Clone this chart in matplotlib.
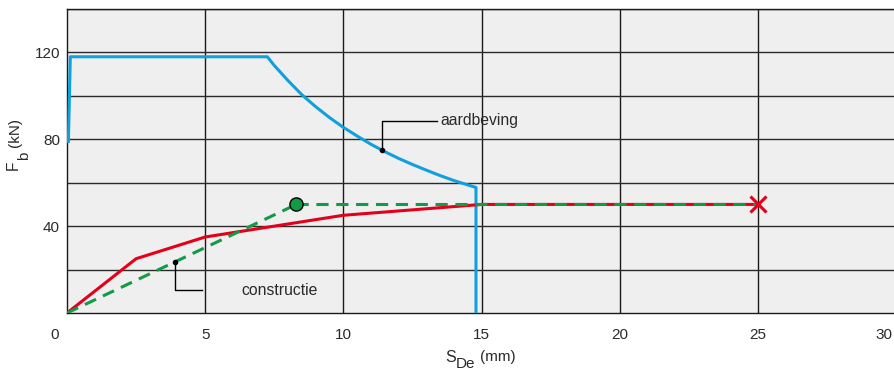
import matplotlib
matplotlib.use("Agg")
import matplotlib.pyplot as plt
from matplotlib.transforms import ScaledTranslation

plt.rcParams['font.family'] = ['Liberation Sans', 'DejaVu Sans']

# Data
eq_x = [0.05, 0.12, 7.25, 7.5, 8.0, 8.5, 9.0, 9.5, 10.0, 10.5, 11.0, 11.5, 12.0,
        12.5, 13.0, 13.5, 14.0, 14.5, 14.8, 14.8]
eq_y = [79, 118, 118, 114, 107, 100.5, 95, 90, 85.5, 81.5, 77.7, 74.3, 71.2,
        68.4, 65.8, 63.3, 61, 59, 57.8, 0]
con_x = [0, 2.5, 5, 10, 15, 25]
con_y = [0, 25, 35, 45, 50, 50]
cap_x = [0, 8.3, 25]
cap_y = [0, 50, 50]
xticks = [0, 5, 10, 15, 20, 25, 30]
yticks = [40, 80, 120]

TXT = '#2a2a2a'
W, H = 894, 374


def px(x, y):
    return x / W, 1 - y / H


fig = plt.figure(figsize=(W / 100, H / 100), dpi=100)
ax = fig.add_axes([67/W, 61/H, (896-67)/W, (313-9)/H])
ax.set_facecolor('#efefef')
ax.set_xlim(0, 30)
ax.set_ylim(0, 140)

for gx in range(5, 30, 5):
    ax.axvline(gx, color='#1a1a1a', lw=1.0, zorder=1)
for gy in range(20, 141, 20):
    ax.axhline(gy, color='#2a2a2a', lw=1.0, zorder=1)

ax.plot(eq_x, eq_y, color='#12a0dc', lw=2.2, zorder=3)
ax.plot(con_x, con_y, color='#e2001a', lw=2.2, zorder=3)
ax.plot(cap_x[:2], cap_y[:2], color='#129a45', lw=2.2, ls=(0, (4, 2.5)), zorder=4)
ax.plot(cap_x[1:], cap_y[1:], color='#129a45', lw=2.2, ls=(0, (4, 2.5)), zorder=4)
ax.plot([cap_x[1]], [cap_y[1]], 'o', ms=9.5, mfc='#129a45', mec='black', mew=1.0, zorder=5)
ax.plot([con_x[-1]], [con_y[-1]], 'x', ms=12, mew=2.2, color='#e2001a', zorder=6)

# annotations
ax.plot([11.4], [75], 'o', ms=3, color='black', zorder=6)
ax.plot([11.4, 11.4, 13.4], [75, 88.5, 88.5], color='black', lw=1.0, zorder=6)
ax.text(13.5, 88.5, 'aardbeving', fontsize=11.3, va='center', ha='left', color=TXT)
ax.plot([3.9], [23.5], 'o', ms=3, color='black', zorder=6)
ax.plot([3.9, 3.9, 4.9], [23.5, 10.5, 10.5], color='black', lw=1.0, zorder=6)
ax.text(6.3, 10.5, 'constructie', fontsize=11.3, va='center', ha='left', color=TXT)

for s in ['top', 'bottom', 'left', 'right']:
    ax.spines[s].set_color('#1a1a1a')
    ax.spines[s].set_linewidth(1.0)
ax.spines['right'].set_visible(False)

ax.set_xticks(xticks)
ax.set_xticklabels([str(t) for t in xticks])
ax.set_yticks(yticks)
ax.set_yticklabels([str(t) for t in yticks])
ax.tick_params(axis='both', length=0, labelsize=11, colors=TXT)
ax.tick_params(axis='x', pad=11)
ax.tick_params(axis='y', pad=5)
xl = ax.get_xticklabels()
xl[0].set_transform(xl[0].get_transform() + ScaledTranslation(-0.12, 0, fig.dpi_scale_trans))
xl[-1].set_transform(xl[-1].get_transform() + ScaledTranslation(-0.12, 0, fig.dpi_scale_trans))

# x-axis label: S_De (mm)
fig.text(*px(445, 362), 'S', fontsize=11.5, ha='left', va='baseline', color=TXT)
fig.text(*px(456, 368), 'De', fontsize=11.0, ha='left', va='baseline', color=TXT)
fig.text(*px(480, 361), '(mm)', fontsize=11.0, ha='left', va='baseline', color=TXT)

# y-axis label: F_b (kN)
fig.text(*px(18, 170), 'F', fontsize=11.2, rotation=90, rotation_mode='anchor',
         ha='left', va='baseline', color=TXT)
fig.text(*px(28, 160), 'b', fontsize=10.8, rotation=90, rotation_mode='anchor',
         ha='left', va='baseline', color=TXT)
fig.text(*px(19, 147), '(kN)', fontsize=11.0, rotation=90, rotation_mode='anchor',
         ha='left', va='baseline', color=TXT)

fig.savefig('out.png', dpi=100)
